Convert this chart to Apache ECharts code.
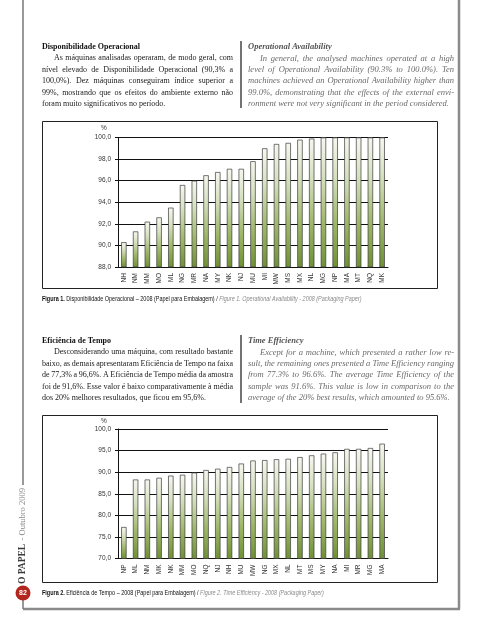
<!DOCTYPE html>
<html><head><meta charset="utf-8">
<script src="https://cdn.jsdelivr.net/npm/echarts@6/dist/echarts.min.js"></script>
<style>html,body{margin:0;padding:0;background:#fff}#c{width:480px;height:640px}</style>
</head><body><div id="c"></div>
<script>
// ---- data ----
const cats1 = ['NH','NM','MM','MO','ML','NG','MR','NA','MY','NK','NJ','MU','MI','MW','MS','MX','NL','MG','NP','MA','MT','NQ','MK'];
const vals1 = [90.3,91.3,92.2,92.6,93.5,95.6,96.0,96.5,96.8,97.1,97.1,97.8,99.0,99.4,99.5,99.8,99.9,100,100,100,100,100,100];
const cats2 = ['NP','ML','NM','MK','NK','MM','MO','NQ','NJ','NH','MU','MW','NG','MX','NL','MT','MS','MY','NA','MI','MR','MG','MA'];
const vals2 = [77.3,88.3,88.3,88.7,89.2,89.4,89.9,90.5,90.8,91.2,92.0,92.7,92.8,93.0,93.1,93.5,93.9,94.3,94.6,95.4,95.4,95.6,96.6];

const head1pt = 'Disponibilidade Operacional';
const para1pt = ['As máquinas analisadas operaram, de modo geral, com','nível elevado de Disponibilidade Operacional (90,3% a','100,0%). Dez máquinas conseguiram índice superior a','99%, mostrando que os efeitos do ambiente externo não','foram muito significativos no período.'];
const head1en = 'Operational Availability';
const para1en = ['In general, the analysed machines operated at a high','level of Operational Availability (90.3% to 100.0%). Ten','machines achieved an Operational Availability higher than','99.0%, demonstrating that the effects of the external envi-','ronment were not very significant in the period considered.'];
const head2pt = 'Eficiência de Tempo';
const para2pt = ['Desconsiderando uma máquina, com resultado bastante','baixo, as demais apresentaram Eficiência de Tempo na faixa','de 77,3% a 96,6%. A Eficiência de Tempo média da amostra','foi de 91,6%. Esse valor é baixo comparativamente à média','dos 20% melhores resultados, que ficou em 95,6%.'];
const head2en = 'Time Efficiency';
const para2en = ['Except for a machine, which presented a rather low re-','sult, the remaining ones presented a Time Efficiency ranging','from 77.3% to 96.6%. The average Time Efficiency of the','sample was 91.6%. This value is low in comparison to the','average of the 20% best results, which amounted to 95.6%.'];
const cap1 = ['Figura 1.',' Disponibilidade Operacional – 2008 (Papel para Embalagem) / ','Figure 1. Operational Availability - 2008 (Packaging Paper)'];
const cap2 = ['Figura 2.',' Eficiência de Tempo – 2008 (Papel para Embalagem) / ','Figure 2. Time Efficiency - 2008 (Packaging Paper)'];

// ---- text helpers ----
const mctx = document.createElement('canvas').getContext('2d');
function mw(t, f){ mctx.font = f; return mctx.measureText(t).width; }
const SERIF = "'Liberation Serif', serif";
function line(txt, x0, x1, y, style, weight, fs, fill, justify){
  const font = style+' '+weight+' '+fs+'px '+SERIF;
  const words = txt.split(' ');
  const ws = words.map(w=>mw(w,font));
  const tot = ws.reduce((a,b)=>a+b,0);
  const sp = mw(' ',font);
  let gap = sp;
  if(justify && words.length>1){ gap = (x1-x0-tot)/(words.length-1); if(gap<sp*0.5) gap=sp*0.5; }
  const out=[]; let x=x0;
  words.forEach((w,i)=>{ out.push({type:'text',x:x,y:y,silent:true,style:{text:w,font:font,fill:fill,align:'left',verticalAlign:'middle',textAlign:'left',textVerticalAlign:'middle'}}); x+=ws[i]+gap; });
  return out;
}
function block(head, para, x0, x1, y0, italic, fs, headFill, fill){
  let els=[];
  const st = italic?'italic':'normal';
  els = els.concat(line(head,x0,x1,y0,st,'bold',fs,headFill,false));
  para.forEach((p,i)=>{
    const last = i===para.length-1;
    els = els.concat(line(p, i===0?x0+12:x0, x1, y0+11.4*(i+1), st, 'normal', fs, fill, !last));
  });
  return els;
}
const CAPF = "'Liberation Sans Narrow','Liberation Sans',sans-serif";
function caption(c, y){
  return {type:'text',x:42,y:y,scaleX:0.78,silent:true,style:{text:'{b|'+c[0]+'}{r|'+c[1]+'}{i|'+c[2]+'}',align:'left',verticalAlign:'middle',
    rich:{b:{fontFamily:CAPF,fontWeight:'bold',fontSize:7,fill:'#111',color:'#111'},
          r:{fontFamily:CAPF,fontSize:7,fill:'#111',color:'#111'},
          i:{fontFamily:CAPF,fontStyle:'italic',fontSize:7,fill:'#8a8a8a',color:'#8a8a8a'}}}};
}

let g = [];
g = g.concat(block(head1pt, para1pt, 42, 233, 47, false, 8.0, '#111', '#1a1a1a'));
g = g.concat(block(head1en, para1en, 248, 454, 47, true, 8.5, '#555', '#6a6a6a'));
g = g.concat(block(head2pt, para2pt, 42, 233, 341, false, 8.0, '#111', '#1a1a1a'));
g = g.concat(block(head2en, para2en, 248, 454, 341, true, 8.5, '#555', '#6a6a6a'));
// column dividers
g.push({type:'line',silent:true,shape:{x1:241,y1:41,x2:241,y2:108},style:{stroke:'#444',lineWidth:1.5}});
g.push({type:'line',silent:true,shape:{x1:241,y1:335,x2:241,y2:403},style:{stroke:'#444',lineWidth:1.5}});
// chart boxes
g.push({type:'rect',silent:true,shape:{x:42.5,y:121.5,width:395,height:167},style:{fill:'none',stroke:'#222',lineWidth:1}});
g.push({type:'rect',silent:true,shape:{x:42.5,y:415.5,width:395,height:167},style:{fill:'none',stroke:'#222',lineWidth:1}});
// % labels
g.push({type:'text',x:104,y:128,silent:true,style:{text:'%',font:"6.5px 'Liberation Sans'",fill:'#333',align:'center',verticalAlign:'middle'}});
g.push({type:'text',x:104,y:421,silent:true,style:{text:'%',font:"6.5px 'Liberation Sans'",fill:'#333',align:'center',verticalAlign:'middle'}});
// captions
g.push(caption(cap1, 299));
g.push(caption(cap2, 593));
// page frame
g.push({type:'line',silent:true,shape:{x1:459,y1:0,x2:459,y2:609},style:{stroke:'#8a8a8a',lineWidth:2.5}});
g.push({type:'line',silent:true,shape:{x1:23,y1:609,x2:460,y2:609},style:{stroke:'#8a8a8a',lineWidth:2.5}});
g.push({type:'line',silent:true,shape:{x1:23,y1:0,x2:23,y2:485},style:{stroke:'#777',lineWidth:1.5}});
g.push({type:'line',silent:true,shape:{x1:23,y1:598,x2:23,y2:609},style:{stroke:'#777',lineWidth:1.5}});
g.push({type:'circle',silent:true,shape:{cx:23,cy:593,r:7.5},style:{fill:'#b3261e'}});
g.push({type:'text',x:23,y:593,silent:true,style:{text:'82',font:"bold 7px 'Liberation Sans'",fill:'#fff',align:'center',verticalAlign:'middle'}});
g.push({type:'text',x:23,y:584,rotation:Math.PI/2,silent:true,style:{text:'{a|O PAPEL} {b|- Outubro 2009}',align:'left',verticalAlign:'middle',
  rich:{a:{fontFamily:"'Liberation Serif',serif",fontWeight:'bold',fontSize:9.5,fill:'#3a3a3a',color:'#3a3a3a'},
        b:{fontFamily:"'Liberation Serif',serif",fontSize:8.5,fill:'#8a8a8a',color:'#8a8a8a'}}}});

const barGrad = new echarts.graphic.LinearGradient(0,0,0,1,[{offset:0,color:'#f6f7ef'},{offset:0.3,color:'#d6e0bf'},{offset:0.65,color:'#9fb86a'},{offset:1,color:'#6f9034'}]);
const lab = {fontSize:6.5,color:'#333',fontFamily:"'Liberation Sans Narrow','Liberation Sans',sans-serif"};
function yA(i,min,max,iv){return {gridIndex:i,type:'value',min:min,max:max,interval:iv,
  axisLine:{show:true,lineStyle:{color:'#111',width:1}},axisTick:{show:true,length:3,lineStyle:{color:'#111'}},
  splitLine:{show:true,lineStyle:{color:'#111',width:1}},
  axisLabel:Object.assign({margin:7,formatter:v=>v.toFixed(1).replace('.',',')},lab)};}
function xA(i,cats){return {gridIndex:i,type:'category',data:cats,
  axisLine:{show:true,lineStyle:{color:'#111',width:1}},axisTick:{show:false},
  axisLabel:Object.assign({rotate:90,interval:0,margin:6},lab)};}
function bar(i,vals){return {type:'bar',xAxisIndex:i,yAxisIndex:i,data:vals,barWidth:'46%',silent:true,
  itemStyle:{color:barGrad,borderColor:'#3c3c3c',borderWidth:0.7}};}

const chart = echarts.init(document.getElementById('c'),null,{renderer:'canvas'});
chart.setOption({
  animation:false,
  backgroundColor:'#fff',
  grid:[{left:118,width:270,top:137.5,height:129.5},{left:118,width:270,top:429,height:129.5}],
  xAxis:[xA(0,cats1),xA(1,cats2)],
  yAxis:[yA(0,88,100,2),yA(1,70,100,5)],
  series:[bar(0,vals1),bar(1,vals2)],
  graphic:g
});
</script></body></html>
